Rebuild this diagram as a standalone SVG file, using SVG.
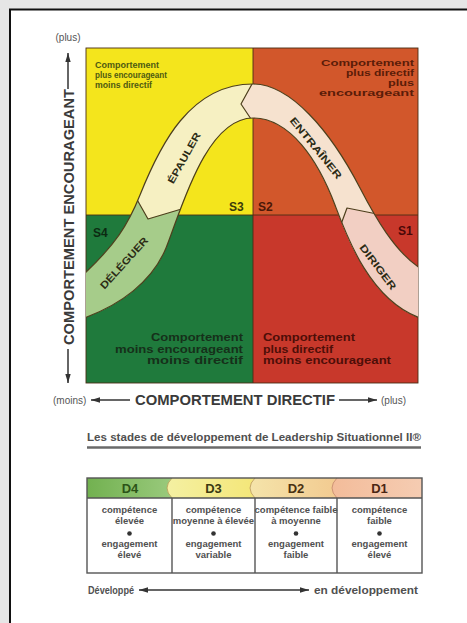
<svg xmlns="http://www.w3.org/2000/svg" width="467" height="623" viewBox="0 0 467 623">
  <defs>
    <style>
      text { font-family: "Liberation Sans", Arial, sans-serif; }
      .q { font-size: 10.5px; font-weight: bold; }
      .qs { font-size: 8.6px; font-weight: bold; }
      .s { font-size: 12px; font-weight: bold; }
      .lbl { font-size: 10px; font-weight: bold; fill: #2b2a14; text-anchor: middle; }
      .axis { font-size: 14px; font-weight: bold; fill: #3a3a3a; }
      .paren { font-size: 10px; fill: #555; }
      .cell { font-size: 9.5px; font-weight: bold; fill: #505050; text-anchor: middle; }
      .hd { font-size: 13px; font-weight: bold; text-anchor: middle; }
      .cap { font-size: 10.5px; font-weight: bold; fill: #505050; }
      .edge { fill: none; stroke: #4d3f1c; stroke-width: 1.2; stroke-linejoin: round; }
      .arrow { stroke: #333; stroke-width: 1.5; fill: none; }
      .grid { stroke: #4a2e14; stroke-width: 0.9; fill: none; }
      .rule { stroke: #555; stroke-width: 1.4; fill: none; }
    </style>
    <marker id="head" viewBox="0 0 10 6" refX="10" refY="3" markerWidth="9" markerHeight="5.4" markerUnits="userSpaceOnUse" orient="auto-start-reverse">
      <path d="M0,0 L10,3 L0,6 Z" fill="#333"/>
    </marker>
    <path id="bandShape" d="M84,274 C115,245 128,225 140,195 C160,145 190,84 253,84 C290,84 330,130 360,188 C375,217 395,252 420,268 L420,318 C370,300 347,237 335,205 C318,160 290,118 253,118 C205,118 180,214 166,248 C152,282 120,305 84,318 Z"/>
    <clipPath id="clipGrid"><rect x="86" y="48" width="332" height="335"/></clipPath>
    <clipPath id="clipBand"><use href="#bandShape"/></clipPath>
    <clipPath id="clipDeleguer"><path d="M60,171 L120,171 L148,219 L205,202 L205,400 L60,400 Z"/></clipPath>
    <clipPath id="clipEntrainer"><path d="M263,64 L241,104 L259,131 L259,400 L470,400 L470,40 L263,40 Z"/></clipPath>
    <clipPath id="clipDiriger"><path d="M330,254 L347,208 L400,218.6 L470,218.6 L470,400 L330,400 Z"/></clipPath>
    <linearGradient id="gD4" x1="0" x2="1" y1="0" y2="0"><stop offset="0" stop-color="#72b150"/><stop offset="1" stop-color="#9ccb7f"/></linearGradient>
    <linearGradient id="gD3" x1="0" x2="1" y1="0" y2="0"><stop offset="0" stop-color="#f4f0a2"/><stop offset="1" stop-color="#f4e676"/></linearGradient>
    <linearGradient id="gD2" x1="0" x2="1" y1="0" y2="0"><stop offset="0" stop-color="#f5e4aa"/><stop offset="1" stop-color="#f2c98f"/></linearGradient>
    <linearGradient id="gD1" x1="0" x2="1" y1="0" y2="0"><stop offset="0" stop-color="#f3bc9a"/><stop offset="1" stop-color="#f5ccb2"/></linearGradient>
  </defs>

  <!-- page -->
  <rect x="0" y="0" width="467" height="623" fill="#e6e6e6"/>
  <rect x="10" y="9.5" width="470" height="625" fill="#ffffff" stroke="#111" stroke-width="2"/>

  <!-- quadrants -->
  <g id="quadrant-s3">
    <rect x="86" y="48" width="167" height="167" fill="#f4e51c"/>
    <g class="qs" fill="#4e5a12">
      <text x="95" y="68" textLength="64" lengthAdjust="spacingAndGlyphs">Comportement</text>
      <text x="95" y="78" textLength="72" lengthAdjust="spacingAndGlyphs">plus encourageant</text>
      <text x="95" y="88" textLength="57" lengthAdjust="spacingAndGlyphs">moins directif</text>
    </g>
  </g>
  <g id="quadrant-s2">
    <rect x="253" y="48" width="165" height="167" fill="#d2572b"/>
    <g class="qs" fill="#5a1c08" text-anchor="end">
      <text x="414" y="66" textLength="93" lengthAdjust="spacingAndGlyphs">Comportement</text>
      <text x="414" y="76" textLength="68" lengthAdjust="spacingAndGlyphs">plus directif</text>
      <text x="414" y="86" textLength="26" lengthAdjust="spacingAndGlyphs">plus</text>
      <text x="414" y="96" textLength="95" lengthAdjust="spacingAndGlyphs">encourageant</text>
    </g>
  </g>
  <g id="quadrant-s4">
    <rect x="86" y="215" width="167" height="168" fill="#1f7a3c"/>
    <g class="q" fill="#16301a" text-anchor="end">
      <text x="243" y="341" textLength="92" lengthAdjust="spacingAndGlyphs">Comportement</text>
      <text x="243" y="352.5" textLength="128" lengthAdjust="spacingAndGlyphs">moins encourageant</text>
      <text x="243" y="364" textLength="96" lengthAdjust="spacingAndGlyphs">moins directif</text>
    </g>
  </g>
  <g id="quadrant-s1">
    <rect x="253" y="215" width="165" height="168" fill="#c8382b"/>
    <g class="q" fill="#4e0e08">
      <text x="263" y="341" textLength="92" lengthAdjust="spacingAndGlyphs">Comportement</text>
      <text x="263" y="352.5" textLength="70" lengthAdjust="spacingAndGlyphs">plus directif</text>
      <text x="263" y="364" textLength="128" lengthAdjust="spacingAndGlyphs">moins encourageant</text>
    </g>
  </g>
  <g id="grid-lines">
    <rect class="grid" x="86" y="48" width="332" height="335"/>
    <line class="grid" x1="253" y1="48" x2="253" y2="383"/>
    <line class="grid" x1="86" y1="215" x2="418" y2="215"/>
  </g>

  <!-- leadership style band -->
  <g id="band" clip-path="url(#clipGrid)">
    <g id="style-epauler">
      <use href="#bandShape" fill="#f6f0c2"/>
    </g>
    <g id="style-deleguer" clip-path="url(#clipDeleguer)">
      <use href="#bandShape" fill="#a6cc8a"/>
    </g>
    <g id="style-entrainer" clip-path="url(#clipEntrainer)">
      <use href="#bandShape" fill="#f6e2cf"/>
    </g>
    <g id="style-diriger" clip-path="url(#clipDiriger)">
      <use href="#bandShape" fill="#f2cfc3"/>
    </g>
    <g clip-path="url(#clipBand)">
      <path class="edge" d="M118,166 L148,219 L205,202"/>
      <path class="edge" d="M257.5,74 L241,104 L257,128"/>
      <path class="edge" d="M333,246 L347,208 L392,217"/>
    </g>
    <use href="#bandShape" class="edge"/>
    <text class="lbl" transform="translate(184,158) rotate(-61)" dy="3.5" textLength="57" lengthAdjust="spacingAndGlyphs">ÉPAULER</text>
    <text class="lbl" transform="translate(124,263) rotate(-48)" dy="3.5" textLength="66" lengthAdjust="spacingAndGlyphs">DÉLÉGUER</text>
    <text class="lbl" transform="translate(316,148) rotate(51)" dy="3.5" textLength="76" lengthAdjust="spacingAndGlyphs">ENTRAÎNER</text>
    <text class="lbl" transform="translate(378,267) rotate(53)" dy="3.5" textLength="54" lengthAdjust="spacingAndGlyphs">DIRIGER</text>
  </g>

  <!-- style numbers -->
  <g id="style-numbers" class="s">
    <text x="229" y="211" fill="#3a3a0a">S3</text>
    <text x="258" y="211" fill="#4a1808">S2</text>
    <text x="93" y="237" fill="#0c2a12">S4</text>
    <text x="398" y="235" fill="#4a0808">S1</text>
  </g>

  <!-- axes -->
  <g id="axis-vertical">
    <text class="paren" x="68" y="41" text-anchor="middle">(plus)</text>
    <text class="axis" transform="translate(74,217) rotate(-90)" text-anchor="middle" textLength="256" lengthAdjust="spacingAndGlyphs">COMPORTEMENT ENCOURAGEANT</text>
  </g>
  <g id="axis-horizontal">
    <text class="paren" x="53" y="404">(moins)</text>
    <text class="axis" x="135" y="405" textLength="200" lengthAdjust="spacingAndGlyphs">COMPORTEMENT DIRECTIF</text>
    <text class="paren" x="381" y="404">(plus)</text>
  </g>

  <g id="connectors">
    <line class="arrow" x1="68" y1="89" x2="68" y2="53" marker-end="url(#head)"/>
    <line class="arrow" x1="68" y1="349" x2="68" y2="383" marker-end="url(#head)"/>
    <line class="arrow" x1="130" y1="400" x2="91" y2="400" marker-end="url(#head)"/>
    <line class="arrow" x1="339" y1="400" x2="377" y2="400" marker-end="url(#head)"/>
    <line class="arrow" x1="139" y1="590" x2="309" y2="590" marker-start="url(#head)" marker-end="url(#head)"/>
  </g>

  <!-- development stages -->
  <g id="title">
    <text class="cap" x="87" y="441" font-size="11.5" textLength="334" lengthAdjust="spacingAndGlyphs">Les stades de développement de Leadership Situationnel II®</text>
    <line x1="87" y1="447.5" x2="421" y2="447.5" stroke="#6a6a6a" stroke-width="2.5"/>
  </g>

  <g id="stage-d4">
    <rect x="87" y="478" width="90" height="20" fill="url(#gD4)"/>
    <text class="hd" x="130" y="493" fill="#2c5418">D4</text>
    <g class="cell">
      <text x="129.5" y="513">compétence</text>
      <text x="129.5" y="523.5">élevée</text>
      <circle cx="129.5" cy="533.5" r="2.3" fill="#333"/>
      <text x="129.5" y="547">engagement</text>
      <text x="129.5" y="557.5">élevé</text>
    </g>
  </g>
  <g id="stage-d3">
    <path d="M172,478 Q162,488 172,498 L260,498 L260,478 Z" fill="url(#gD3)"/>
    <path d="M172,478 Q162,488 172,498" fill="none" stroke="#b6a25a" stroke-width="0.9"/>
    <text class="hd" x="213.5" y="493" fill="#3b3a12">D3</text>
    <g class="cell">
      <text x="213.5" y="513">compétence</text>
      <text x="213.5" y="523.5">moyenne à élevée</text>
      <circle cx="213.5" cy="533.5" r="2.3" fill="#333"/>
      <text x="213.5" y="547">engagement</text>
      <text x="213.5" y="557.5">variable</text>
    </g>
  </g>
  <g id="stage-d2">
    <path d="M255,478 Q245,488 255,498 L342,498 L342,478 Z" fill="url(#gD2)"/>
    <path d="M255,478 Q245,488 255,498" fill="none" stroke="#c2a060" stroke-width="0.9"/>
    <text class="hd" x="296" y="493" fill="#4a3212">D2</text>
    <g class="cell">
      <text x="296" y="513">compétence faible</text>
      <text x="296" y="523.5">à moyenne</text>
      <circle cx="296" cy="533.5" r="2.3" fill="#333"/>
      <text x="296" y="547">engagement</text>
      <text x="296" y="557.5">faible</text>
    </g>
  </g>
  <g id="stage-d1">
    <path d="M337,478 Q327,488 337,498 L422,498 L422,478 Z" fill="url(#gD1)"/>
    <path d="M337,478 Q327,488 337,498" fill="none" stroke="#c99070" stroke-width="0.9"/>
    <text class="hd" x="379.5" y="493" fill="#4a2614">D1</text>
    <g class="cell">
      <text x="379.5" y="513">compétence</text>
      <text x="379.5" y="523.5">faible</text>
      <circle cx="379.5" cy="533.5" r="2.3" fill="#333"/>
      <text x="379.5" y="547">engagement</text>
      <text x="379.5" y="557.5">élevé</text>
    </g>
  </g>
  <g id="stage-table-rules">
    <rect class="rule" x="87" y="478" width="335" height="95"/>
    <line class="rule" x1="87" y1="498" x2="422" y2="498"/>
    <line class="rule" x1="172" y1="498" x2="172" y2="573"/>
    <line class="rule" x1="255" y1="498" x2="255" y2="573"/>
    <line class="rule" x1="337" y1="498" x2="337" y2="573"/>
  </g>

  <g id="stage-scale">
    <text class="cap" x="88" y="594" textLength="46" lengthAdjust="spacingAndGlyphs">Développé</text>
    <text class="cap" x="314" y="594" textLength="104" lengthAdjust="spacingAndGlyphs">en développement</text>
  </g>
</svg>
